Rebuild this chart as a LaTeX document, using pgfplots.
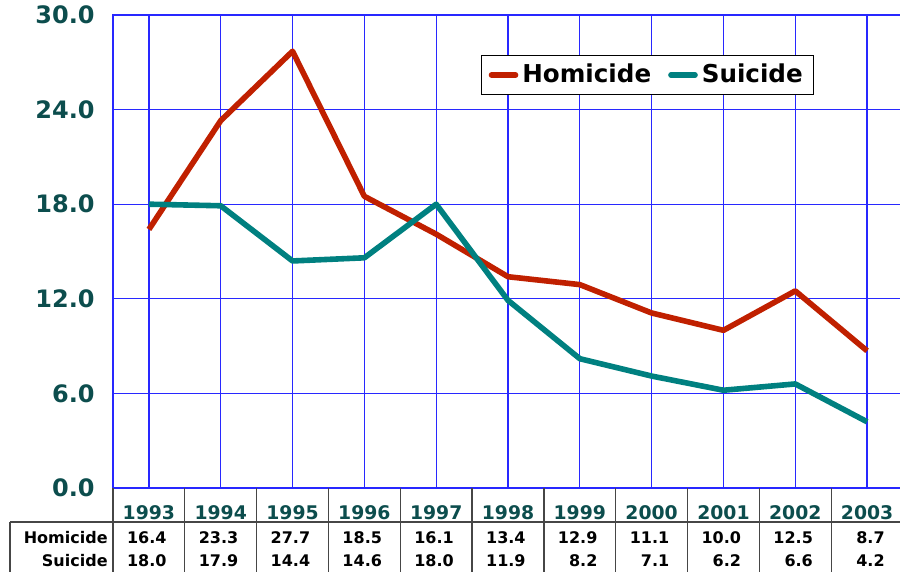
\documentclass[border=0pt]{standalone}
\usepackage{pgfplots}
\pgfplotsset{compat=1.18}
\usepackage{pgfplotstable}
\usepackage{fontspec}
\setmainfont{DejaVu Sans}
\definecolor{homc}{RGB}{192,32,0}
\definecolor{suic}{RGB}{0,128,128}
\definecolor{tickc}{RGB}{12,77,77}
\definecolor{gridc}{RGB}{40,40,255}
\definecolor{tablec}{RGB}{70,70,70}

\pgfplotstableread{
idx year hom sui
0 1993 16.4 18.0
1 1994 23.3 17.9
2 1995 27.7 14.4
3 1996 18.5 14.6
4 1997 16.1 18.0
5 1998 13.4 11.9
6 1999 12.9 8.2
7 2000 11.1 7.1
8 2001 10.0 6.2
9 2002 12.5 6.6
10 2003 8.7 4.2
}\data

\begin{document}
\begin{tikzpicture}
\useasboundingbox (-56.5pt,-42pt) rectangle (393.5pt,244pt);
\begin{axis}[
  at={(0,0)}, anchor=south west,
  scale only axis, width=395pt, height=236.5pt,
  xmin=-0.5, xmax=10.5, ymin=0, ymax=30,
  clip=false,
  /pgf/number format/assume math mode=true,
  ytick={0,6,12,18,24,30},
  yticklabel={\pgfmathprintnumber[fixed,fixed zerofill,precision=1]{\tick}},
  yticklabel style={anchor=east, inner sep=0pt, xshift=-9pt, text=tickc,
    font=\bfseries\fontsize{12}{14}\selectfont},
  xtick={0,...,10},
  xticklabels={1993,1994,1995,1996,1997,1998,1999,2000,2001,2002,2003},
  xticklabel style={anchor=base, inner sep=0pt, yshift=-16pt, text=tickc,
    font=\bfseries\fontsize{9.4}{11}\selectfont},
  major tick length=0pt,
  xmajorgrids, ymajorgrids,
  grid style={gridc, line width=0.6pt},
  axis line style={gridc, line width=0.6pt},
  legend style={at={(0.466,0.915)}, anchor=north west, draw=black, line width=0.6pt,
    legend columns=2, font=\bfseries\fontsize{12.3}{14}\selectfont,
    inner xsep=3.5pt, inner ysep=2.2pt,
    /tikz/every even column/.append style={column sep=6.5pt}},
  legend image code/.code={\draw[#1, line cap=round, line width=2.8pt] (0pt,0pt) -- (12pt,0pt);},
]
\addplot[homc, line width=2.8pt, line join=round, mark=none] table[x=idx, y=hom] {\data};
\addlegendentry{Homicide}
\addplot[suic, line width=2.8pt, line join=round, mark=none] table[x=idx, y=sui] {\data};
\addlegendentry{Suicide}

% table values
\addplot[forget plot, draw=none, mark=none, point meta=explicit,
  nodes near coords={\pgfmathprintnumber[fixed,fixed zerofill,precision=1]{\pgfplotspointmeta}},
  every node near coord/.append style={anchor=base east, inner sep=0pt, xshift=9pt,
    text=black, font=\bfseries\fontsize{8}{10}\selectfont}]
  table[x=idx, y expr=-3.49, meta=hom] {\data};
\addplot[forget plot, draw=none, mark=none, point meta=explicit,
  nodes near coords={\pgfmathprintnumber[fixed,fixed zerofill,precision=1]{\pgfplotspointmeta}},
  every node near coord/.append style={anchor=base east, inner sep=0pt, xshift=9pt,
    text=black, font=\bfseries\fontsize{8}{10}\selectfont}]
  table[x=idx, y expr=-5.01, meta=sui] {\data};

% table lines
\draw[tablec, line width=0.6pt] (axis cs:-1.934,-2.157) -- (axis cs:10.6,-2.157);
\draw[tablec, line width=0.6pt] (axis cs:-1.934,-2.157) -- (axis cs:-1.934,-5.6);
\pgfplotsinvokeforeach{-0.5,0.5,1.5,2.5,3.5,4.5,5.5,6.5,7.5,8.5,9.5}{
  \draw[tablec, line width=0.6pt] (axis cs:#1,0) -- (axis cs:#1,-5.6);
}
\node[anchor=base east, inner sep=0pt, xshift=-2.5pt, font=\bfseries\fontsize{8}{10}\selectfont]
  at (axis cs:-0.5,-3.49) {Homicide};
\node[anchor=base east, inner sep=0pt, xshift=-2.5pt, font=\bfseries\fontsize{8}{10}\selectfont]
  at (axis cs:-0.5,-5.01) {Suicide};
\end{axis}
\end{tikzpicture}
\end{document}
